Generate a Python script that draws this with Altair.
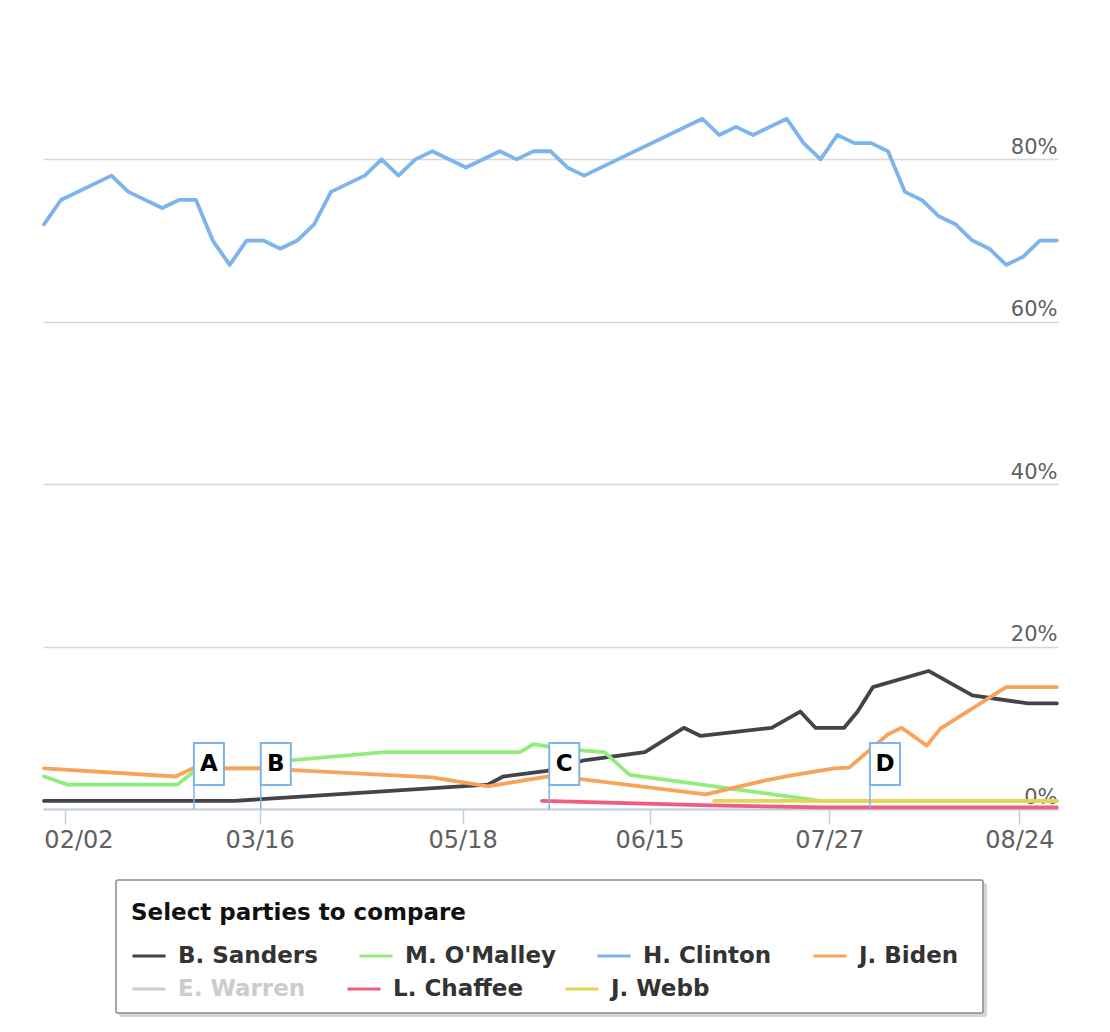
import altair as alt
import pandas as pd

# ---- data (Highstock ordinal axis: x = poll position) ----
names_row1 = ["B. Sanders", "M. O'Malley", "H. Clinton", "J. Biden"]
colors_row1 = ["#434348", "#90ed7d", "#7cb5ec", "#f7a35c"]
names_row2 = ["E. Warren", "L. Chaffee", "J. Webb"]
colors_row2 = ["#cccccc", "#f15c80", "#e4d354"]

sanders_pos = [0, 11.3, 26.3, 27.2, 29.8, 32.0, 35.6, 37.9, 38.9, 43.1, 44.8, 45.7, 47.4, 48.2, 49.1, 52.4, 55.0, 58.3, 60]
sanders_val = [1, 1, 3, 4, 4.7, 6, 7, 10, 9, 10, 12, 10, 10, 12, 15, 17, 14, 13, 13]

omalley_pos = [0, 1.4, 7.9, 9.1, 12.8, 14.0, 20.2, 28.2, 29.0, 29.8, 32.0, 33.2, 34.7, 46.0, 60]
omalley_val = [4, 3, 3, 5, 5, 5.9, 7, 7, 8, 7.7, 7.2, 7, 4.2, 1, 1]

clinton_pos = [0, 1, 4, 5, 7, 8, 9, 10, 11, 12, 13, 14, 15, 16, 17, 19, 20, 21, 22, 23, 25, 27, 28, 29, 30,
               31, 32, 39, 40, 41, 42, 44, 45, 46, 47, 48, 49, 50, 51, 52, 53, 54, 55, 56, 57, 58, 59, 60]
clinton_val = [72, 75, 78, 76, 74, 75, 75, 70, 67, 70, 70, 69, 70, 72, 76, 78, 80, 78, 80, 81, 79, 81, 80, 81, 81,
               79, 78, 85, 83, 84, 83, 85, 82, 80, 83, 82, 82, 81, 76, 75, 73, 72, 70, 69, 67, 68, 70, 70]

biden_pos = [0, 7.8, 8.8, 12.8, 23.0, 26.3, 29.8, 31.7, 39.2, 42.9, 44.2, 46.8, 47.7, 50.0, 50.8, 52.3, 53.1, 57.0, 60]
biden_val = [5, 4, 5, 5, 3.9, 2.8, 4.0, 3.7, 1.8, 3.6, 4.1, 5.0, 5.1, 9.2, 10, 7.8, 9.9, 15, 15]

chaffee_pos = [29.5, 39.5, 46.0, 60]
chaffee_val = [1.0, 0.45, 0.2, 0.2]

webb_pos = [39.7, 60]
webb_val = [1.0, 1.0]

tick_pos = [1.27, 12.77, 24.80, 35.87, 46.52, 57.78]
tick_labels = ["02/02", "03/16", "05/18", "06/15", "07/27", "08/24"]

flag_pos = [8.88, 12.84, 29.93, 48.93]
flag_text = ["A", "B", "C", "D"]


def long_table(series):
    rows = []
    for name, ps, vs in series:
        for p, v in zip(ps, vs):
            rows.append({"party": name, "pos": p, "share": v})
    return pd.DataFrame(rows)


df1 = long_table([
    ("B. Sanders", sanders_pos, sanders_val),
    ("M. O'Malley", omalley_pos, omalley_val),
    ("H. Clinton", clinton_pos, clinton_val),
    ("J. Biden", biden_pos, biden_val),
])
df2 = long_table([
    ("L. Chaffee", chaffee_pos, chaffee_val),
    ("J. Webb", webb_pos, webb_val),
])
flags_df = pd.DataFrame({"pos": flag_pos, "label": flag_text})

W, H = 1015, 795
XDOM = [-0.06, 60.07]
YDOM = [0, 97.9]
FONT = "DejaVu Sans"
AXIS_BLUE = "#c0d0e0"

xscale = alt.Scale(domain=XDOM, nice=False, zero=False)
yscale = alt.Scale(domain=YDOM, nice=False, zero=False)

label_expr = f"{tick_labels}[indexof({tick_pos}, datum.value)]"

x_axis = alt.Axis(
    values=tick_pos, labelExpr=label_expr, title=None, grid=False,
    domainColor=AXIS_BLUE, domainWidth=2, tickColor=AXIS_BLUE, tickWidth=1.5, tickSize=15,
    labelFont=FONT, labelFontSize=24, labelColor="#606060", labelPadding=4,
    labelFlush=False, labelOverlap=False,
    labelOffset={"condition": {"test": "datum.value < 5", "value": 13}, "value": 0},
)
y_axis = alt.Axis(
    orient="right", values=[0, 20, 40, 60, 80], labelExpr="datum.value + '%'", title=None,
    grid=True, gridColor="#d8d8d8", gridWidth=1.5, domain=False, ticks=False,
    labelAlign="right", labelBaseline="alphabetic", labelPadding=-1, labelOffset=-6,
    labelFont=FONT, labelFontSize=21, labelColor="#606060",
)

leg_common = dict(
    orient="none", direction="horizontal",
    symbolType="stroke", symbolSize=1089, symbolStrokeWidth=3,
    labelFont=FONT, labelFontSize=23, labelFontWeight="bold", labelLimit=0,
    labelOffset=11, columnPadding=35, padding=0,
)
legend1 = alt.Legend(
    title="Select parties to compare", legendX=88, legendY=888, columns=4,
    titleFont=FONT, titleFontSize=23, titleFontWeight="bold", titleColor="#111111", titleLimit=0,
    titlePadding=13, labelColor="#333333", **leg_common,
)
legend2 = alt.Legend(
    title=None, legendX=88, legendY=957, columns=3,
    labelColor={"expr": "datum.label == 'E. Warren' ? '#cccccc' : '#333333'"}, **leg_common,
)

# legend frame (decoration) with a soft shadow
frame_df = pd.DataFrame({"k": [0]})
shadow = alt.Chart(frame_df).mark_rect(fill="#d4d4d4", cornerRadius=3).encode(
    x=alt.value(76), x2=alt.value(944), y=alt.value(869), y2=alt.value(1003)
)
frame = alt.Chart(frame_df).mark_rect(fill="white", stroke="#8a8a8a", strokeWidth=1.5, cornerRadius=2).encode(
    x=alt.value(73), x2=alt.value(940), y=alt.value(866), y2=alt.value(999)
)

line_mark = dict(strokeWidth=3.8, strokeJoin="round", strokeCap="round")
lines1 = alt.Chart(df1).mark_line(**line_mark).encode(
    x=alt.X("pos:Q", scale=xscale, axis=x_axis),
    y=alt.Y("share:Q", scale=yscale, axis=y_axis),
    color=alt.Color("party:N", scale=alt.Scale(domain=names_row1, range=colors_row1), legend=legend1),
    order="pos:Q",
)
lines2 = alt.Chart(df2).mark_line(**line_mark).encode(
    x=alt.X("pos:Q", title=None),
    y=alt.Y("share:Q", title=None),
    stroke=alt.Stroke("party:N", scale=alt.Scale(domain=names_row2, range=colors_row2), legend=legend2),
    order="pos:Q",
)

fbase = alt.Chart(flags_df).transform_calculate(pos2="datum.pos + 1.78", mid="datum.pos + 0.89")
poles = fbase.mark_rule(color="#7cb5ec", strokeWidth=1.5).encode(
    x=alt.X("pos:Q", title=None), y=alt.value(H - 24), y2=alt.value(H)
)
boxes = fbase.mark_rect(fill="white", stroke="#7cb5ec", strokeWidth=2).encode(
    x=alt.X("pos:Q", title=None), x2="pos2:Q", y=alt.value(H - 66), y2=alt.value(H - 24)
)
texts = fbase.mark_text(font=FONT, fontSize=23, fontWeight="bold", color="#000000", baseline="middle").encode(
    x=alt.X("mid:Q", title=None), y=alt.value(H - 45), text="label:N"
)

chart = alt.layer(shadow, frame, lines1, lines2, poles, boxes, texts).properties(
    width=W, height=H, background="white",
    padding={"left": 34, "top": 6, "right": 8, "bottom": 8}
).configure_view(strokeWidth=0)

chart.save("out.html", embed_options={"renderer": "svg", "actions": False})
